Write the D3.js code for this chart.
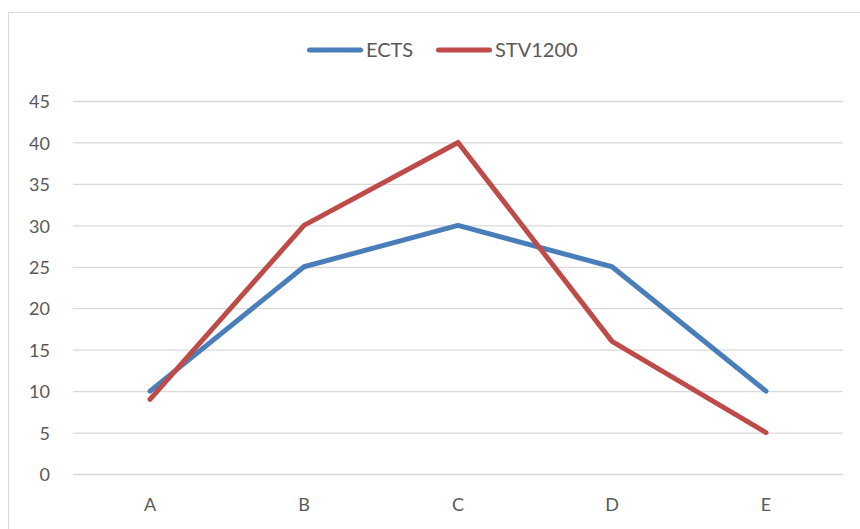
<!DOCTYPE html>
<html>
<head>
<meta charset="utf-8">
<script src="https://cdn.jsdelivr.net/npm/d3@7"></script>
<style>
  body { margin: 0; background: #fff; }
  text { font-family: Lato, "Open Sans", sans-serif; fill: #595959; }
</style>
</head>
<body>
<svg id="chart" width="860" height="529"></svg>
<script>
var categories = ["A", "B", "C", "D", "E"];
var ects = [10, 25, 30, 25, 10];
var stv1200 = [9, 30, 40, 16, 5];
var yTicks = [0, 5, 10, 15, 20, 25, 30, 35, 40, 45];
var seriesNames = ["ECTS", "STV1200"];
var colors = ["#4a7ebb", "#be4b48"];

var svg = d3.select("#chart");

// outer chart border
svg.append("rect")
    .attr("x", 8.5).attr("y", 12.5)
    .attr("width", 880).attr("height", 560)
    .attr("fill", "none")
    .attr("stroke", "#d9d9d9");

var plotLeft = 73, plotRight = 843, plotTop = 101, plotBottom = 474;

var xScale = d3.scaleBand()
    .domain(categories)
    .range([plotLeft, plotRight]);

var yScale = d3.scaleLinear()
    .domain([0, 45])
    .range([plotBottom, plotTop]);

// gridlines
svg.append("g")
    .selectAll("line")
    .data(yTicks)
    .enter().append("line")
    .attr("x1", plotLeft).attr("x2", plotRight)
    .attr("y1", function (d) { return yScale(d) + 0.5; })
    .attr("y2", function (d) { return yScale(d) + 0.5; })
    .attr("stroke", "#d9d9d9")
    .attr("stroke-width", 1.3);

// y labels
var yAxis = svg.append("g")
    .attr("transform", "translate(" + (plotLeft - 23) + ",1)")
    .call(d3.axisLeft(yScale).tickValues(yTicks).tickSize(0).tickPadding(0));
yAxis.select(".domain").remove();
yAxis.selectAll("text")
    .style("font-size", "18px")
    .attr("fill", "#595959");

// x labels
var xAxis = svg.append("g")
    .attr("transform", "translate(0," + (plotBottom + 24) + ")")
    .call(d3.axisBottom(xScale).tickSize(0).tickPadding(0));
xAxis.select(".domain").remove();
xAxis.selectAll("text")
    .style("font-size", "18px")
    .attr("fill", "#595959");

var line = d3.line()
    .x(function (d, i) { return xScale(categories[i]) + xScale.bandwidth() / 2; })
    .y(function (d) { return yScale(d); });

[ects, stv1200].forEach(function (s, i) {
    svg.append("path")
        .datum(s)
        .attr("d", line)
        .attr("fill", "none")
        .attr("stroke", colors[i])
        .attr("stroke-width", 5)
        .attr("stroke-linejoin", "round")
        .attr("stroke-linecap", "round");
});

// legend
var legendX = [307, 436];
var legend = svg.append("g");
seriesNames.forEach(function (name, i) {
    legend.append("line")
        .attr("x1", legendX[i] + 2.5).attr("x2", legendX[i] + 53.5)
        .attr("y1", 50).attr("y2", 50)
        .attr("stroke", colors[i])
        .attr("stroke-width", 5)
        .attr("stroke-linecap", "round");
    legend.append("text")
        .attr("x", legendX[i] + 59)
        .attr("y", 57)
        .style("font-size", "20px")
        .text(name);
});
</script>
</body>
</html>
